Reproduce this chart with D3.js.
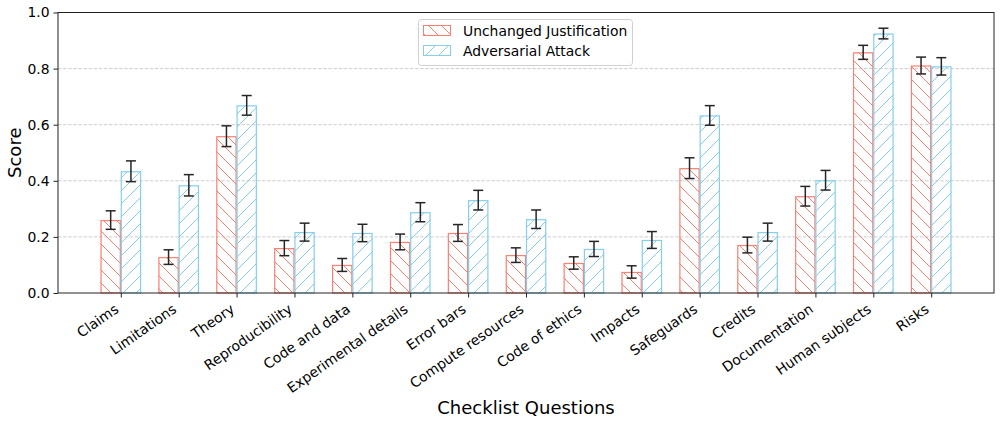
<!DOCTYPE html>
<html><head><meta charset="utf-8">
<script src="https://cdn.jsdelivr.net/npm/d3@7"></script>
<style>
body{margin:0;background:#fff;}
text{font-family:"DejaVu Sans",sans-serif;fill:#000;}
</style></head>
<body>
<svg id="chart" width="1000" height="424"></svg>
<script>
const categories = ["Claims","Limitations","Theory","Reproducibility","Code and data","Experimental details","Error bars","Compute resources","Code of ethics","Impacts","Safeguards","Credits","Documentation","Human subjects","Risks"];
const unchanged = [0.260,0.128,0.559,0.160,0.100,0.182,0.214,0.135,0.107,0.075,0.445,0.171,0.345,0.858,0.811];
const unchangedErr = [0.033,0.026,0.037,0.027,0.023,0.028,0.030,0.026,0.022,0.022,0.037,0.028,0.035,0.025,0.030];
const adversarial = [0.434,0.384,0.669,0.217,0.214,0.288,0.331,0.263,0.157,0.189,0.633,0.217,0.402,0.925,0.808];
const adversarialErr = [0.037,0.038,0.035,0.032,0.031,0.034,0.035,0.033,0.027,0.030,0.035,0.032,0.035,0.019,0.031];
const yTicks = [0,0.2,0.4,0.6,0.8,1.0];
const seriesNames = ["Unchanged Justification","Adversarial Attack"];
const seriesColors = ["#FA8072","#87CEEB"];

const svg = d3.select("#chart");
const L=58, R=994, T=12.5, B=293;
const bw = 0.35;
const pad = (categories.length-1 + 2*bw)*0.05;
const x = d3.scaleLinear().domain([-bw-pad, categories.length-1+bw+pad]).range([L,R]);
const y = d3.scaleLinear().domain([0,1]).range([B,T]);

// hatch patterns
const defs = svg.append("defs");
const hs = 13;
function hatch(id,color,dir){
  const p = defs.append("pattern").attr("id",id).attr("patternUnits","userSpaceOnUse")
    .attr("width",hs).attr("height",hs);
  const d = dir==="back"
    ? `M0,0L${hs},${hs}M${-hs/4},${3*hs/4}L${hs/4},${5*hs/4}M${3*hs/4},${-hs/4}L${5*hs/4},${hs/4}`
    : `M0,${hs}L${hs},0M${-hs/4},${hs/4}L${hs/4},${-hs/4}M${3*hs/4},${5*hs/4}L${5*hs/4},${3*hs/4}`;
  p.append("path").attr("d",d).attr("stroke",color).attr("stroke-width",1).attr("fill","none");
}
hatch("hRed",seriesColors[0],"back");
hatch("hBlue",seriesColors[1],"fwd");

// grid
svg.append("g").selectAll("line").data(yTicks.filter(v=>v>0&&v<1)).join("line")
  .attr("x1",L).attr("x2",R).attr("y1",d=>y(d)).attr("y2",d=>y(d))
  .attr("stroke","#c8c8c8").attr("stroke-width",0.9).attr("stroke-dasharray","3.5,1.6");

const series = [
  {vals:unchanged, errs:unchangedErr, off:-bw, fill:"url(#hRed)", color:seriesColors[0]},
  {vals:adversarial, errs:adversarialErr, off:0, fill:"url(#hBlue)", color:seriesColors[1]}
];
series.forEach(s=>{
  const g = svg.append("g");
  g.selectAll("rect.f").data(s.vals).join("rect")
    .attr("x",(d,i)=>x(i+s.off)).attr("width",(d,i)=>x(i+s.off+bw)-x(i+s.off))
    .attr("y",d=>y(d)).attr("height",d=>B-y(d)).attr("fill",s.fill).attr("stroke","none");
  g.selectAll("rect.e").data(s.vals).join("rect")
    .attr("x",(d,i)=>x(i+s.off)+0.5).attr("width",(d,i)=>x(i+s.off+bw)-x(i+s.off)-1)
    .attr("y",d=>y(d)+0.5).attr("height",d=>B-y(d)-0.5).attr("fill","none")
    .attr("stroke",s.color).attr("stroke-width",1.2);
});
series.forEach(s=>{
  const g = svg.append("g").attr("stroke","#262626").attr("stroke-width",1.5);
  s.vals.forEach((v,i)=>{
    const cx = x(i+s.off+bw/2), e=s.errs[i];
    g.append("line").attr("x1",cx).attr("x2",cx).attr("y1",y(v-e)).attr("y2",y(v+e));
    g.append("line").attr("x1",cx-5).attr("x2",cx+5).attr("y1",y(v-e)).attr("y2",y(v-e));
    g.append("line").attr("x1",cx-5).attr("x2",cx+5).attr("y1",y(v+e)).attr("y2",y(v+e));
  });
});

// frame
svg.append("rect").attr("x",L).attr("y",T).attr("width",R-L).attr("height",B-T)
  .attr("fill","none").attr("stroke","#222").attr("stroke-width",1);

// y axis
const ya = svg.append("g").attr("transform",`translate(${L},0)`)
  .call(d3.axisLeft(y).tickValues(yTicks).tickFormat(d3.format(".1f")).tickSize(4.5).tickPadding(4));
ya.select(".domain").remove();
ya.selectAll("line").attr("stroke","#222");
ya.selectAll("text").attr("font-size","13.9px").attr("font-family","DejaVu Sans").attr("fill","#000");

// x axis
const xa = svg.append("g").attr("transform",`translate(0,${B})`)
  .call(d3.axisBottom(x).tickValues(d3.range(categories.length)).tickFormat(i=>categories[i]).tickSize(4.5).tickPadding(4));
xa.select(".domain").remove();
xa.selectAll("line").attr("stroke","#222");
xa.selectAll("text").attr("font-size","13.9px").attr("font-family","DejaVu Sans").attr("fill","#000")
  .attr("text-anchor","end").attr("x",0).attr("y",0).attr("dy",0)
  .attr("transform","translate(-1.7,18.3) rotate(-35)");

// axis labels
svg.append("text").attr("x",(L+R)/2).attr("y",414).attr("text-anchor","middle")
  .attr("font-size","18px").text("Checklist Questions");
svg.append("text").attr("transform",`translate(21,${(T+B)/2}) rotate(-90)`).attr("text-anchor","middle")
  .attr("font-size","18px").text("Score");

// legend
const lg = svg.append("g");
lg.append("rect").attr("x",418.5).attr("y",19.5).attr("width",214).attr("height",46).attr("rx",3)
  .attr("fill","#fff").attr("fill-opacity",0.8).attr("stroke","#d0d0d0");
seriesNames.forEach((n,i)=>{
  const yy = 25 + i*20;
  lg.append("rect").attr("x",423.5).attr("y",yy+0.5).attr("width",27).attr("height",10)
    .attr("fill",i===0?"url(#hRed)":"url(#hBlue)").attr("stroke",seriesColors[i]).attr("stroke-width",1);
  lg.append("text").attr("x",463).attr("y",yy+10.5).attr("font-size","13.9px").text(n);
});
</script>
</body></html>
